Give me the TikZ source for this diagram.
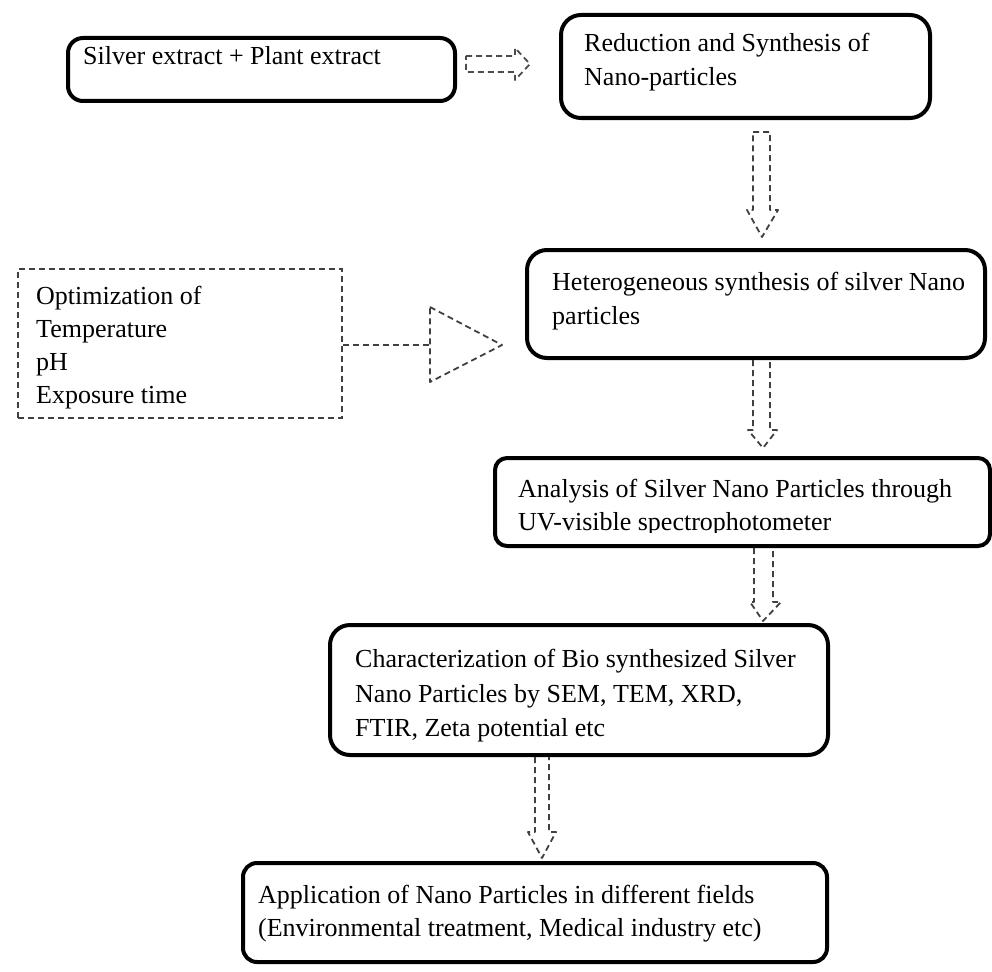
\documentclass[tikz,border=0pt]{standalone}
\usepackage{fontspec}
\setmainfont{Liberation Serif}
\begin{document}
\begin{tikzpicture}[x=1pt,y=-1pt,
  box/.style={draw=black,line width=4pt,rounded corners=15pt,fill=white,inner sep=0pt},
  dbox/.style={draw=black!75,line width=1.8pt,dash pattern=on 6pt off 4pt,inner sep=0pt},
  txt/.style={anchor=base west,inner sep=0pt,font=\fontsize{26}{33}\selectfont},
  harrow/.style={draw=black!70,line width=1.8pt,dash pattern=on 6pt off 4pt,line join=round},
  darrow/.style={draw=black!75,line width=1.8pt,dash pattern=on 6pt off 4pt,line join=round}]
\useasboundingbox (0,0) rectangle (992,971);
% boxes
\node[box,minimum width=387pt,minimum height=63pt] (b1) at (261.5,69.5) {};
\node[box,minimum width=369pt,minimum height=103pt,rounded corners=20pt] (b2) at (745.5,66.5) {};
\node[box,minimum width=458pt,minimum height=108pt,rounded corners=20pt] (b3) at (756,304) {};
\node[dbox,minimum width=324pt,minimum height=149pt] (d) at (180,343.5) {};
\node[box,minimum width=495pt,minimum height=88pt,rounded corners=12pt] (b4) at (742.5,502) {};
\node[box,minimum width=498pt,minimum height=130pt,rounded corners=20pt] (b5) at (579,690) {};
\node[box,minimum width=584pt,minimum height=99pt,rounded corners=14pt] (b6) at (535,912.5) {};
% texts
\node[txt] (t1) at (83,65) {Silver extract + Plant extract};
\node[txt] (t2a) at (584,52) {Reduction and Synthesis of};
\node[txt] (t2b) at (584,86) {Nano-particles};
\node[txt] (t3a) at (552,290) {Heterogeneous synthesis of silver Nano};
\node[txt] (t3b) at (552,324) {particles};
\node[txt] (tda) at (36,304) {Optimization of};
\node[txt] (tdb) at (36,337) {Temperature};
\node[txt] (tdc) at (36,370) {pH};
\node[txt] (tdd) at (36,403) {Exposure time};
\node[txt] (t4a) at (518,497) {Analysis of Silver Nano Particles through};
\begin{scope}
\clip (495,505) rectangle (990,532);
\node[txt] (t4b) at (518,530) {UV-visible spectrophotometer};
\end{scope}
\node[txt] (t5a) at (355,667) {Characterization of Bio synthesized Silver};
\node[txt] (t5b) at (355,702) {Nano Particles by SEM, TEM, XRD,};
\node[txt] (t5c) at (355,736) {FTIR, Zeta potential etc};
\node[txt] (t6a) at (258,903) {Application of Nano Particles in different fields};
\node[txt] (t6b) at (258,936) {(Environmental treatment, Medical industry etc)};
% arrow b1 -> b2
\draw[harrow] (466,56) -- (515,56) -- (515,48) -- (530,64) -- (515,80) -- (515,72) -- (466,72) -- cycle;
% arrow b2 -> b3
\draw[darrow] (753,132) -- (770,132) -- (770,210) -- (778,210) -- (762,237) -- (747,210) -- (753,210) -- cycle;
% arrow d -> b3
\coordinate (dr) at (d.east |- 0,345);
\draw[darrow] (dr) -- (430,345);
\draw[darrow] (430,307) -- (502,345) -- (430,382) -- cycle;
% arrow b3 -> b4
\draw[darrow] (753,360) -- (753,430) -- (748,430) -- (763,448) -- (777,430) -- (770,430) -- (770,360);
% arrow b4 -> b5
\draw[darrow] (754,548) -- (754,602) -- (750,602) -- (763,621) -- (781,602) -- (773,602) -- (773,548);
% arrow b5 -> b6
\draw[darrow] (535,757) -- (535,832) -- (528,832) -- (542,858) -- (556,832) -- (549,832) -- (549,757);
\end{tikzpicture}
\end{document}
